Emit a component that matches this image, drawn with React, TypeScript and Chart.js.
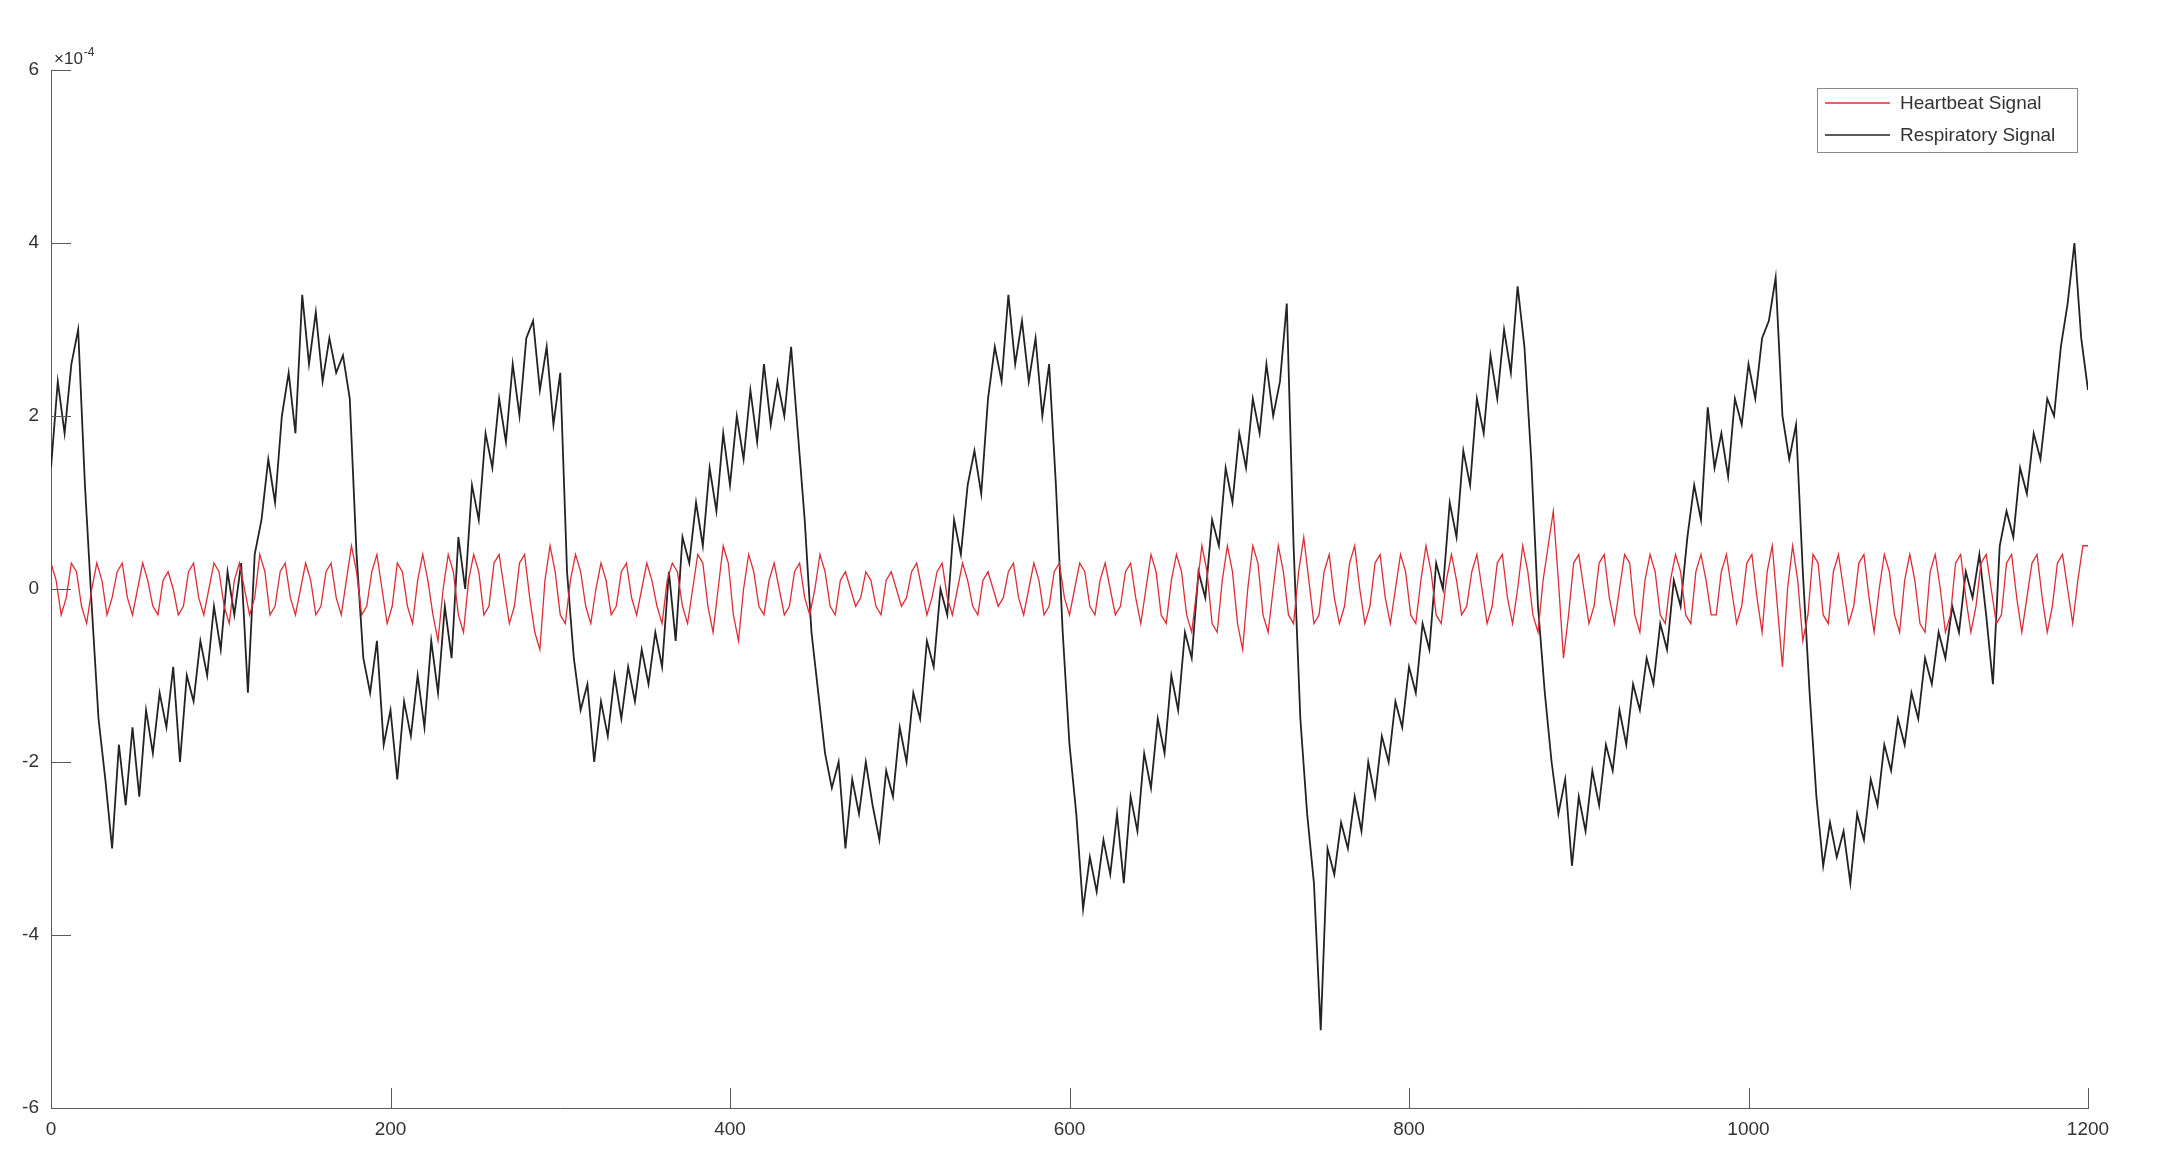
import React, { useEffect, useRef } from "react";
import { Chart, registerables } from "chart.js";

Chart.register(...registerables);

// ---- data -----------------------------------------------------------------
const X_TICKS = [0, 200, 400, 600, 800, 1000, 1200];
const Y_TICKS = [-6, -4, -2, 0, 2, 4, 6];
const SERIES_LABELS = ["Heartbeat Signal", "Respiratory Signal"];
const EXPONENT_BASE = "\u00d710";
const EXPONENT_POWER = "-4";

const HEART_STEP = 3;
const RESP_STEP = 4;

// Heartbeat signal (x10^-4), x = 0, 3, 6, ... 1200
const HEART_VALUES = [
  0.3, 0.1, -0.3, -0.1, 0.3, 0.2, -0.2, -0.4, 0.0, 0.3,
  0.1, -0.3, -0.1, 0.2, 0.3, -0.1, -0.3, 0.0, 0.3, 0.1,
  -0.2, -0.3, 0.1, 0.2, 0.0, -0.3, -0.2, 0.2, 0.3, -0.1,
  -0.3, 0.0, 0.3, 0.2, -0.2, -0.4, 0.1, 0.3, 0.0, -0.3,
  -0.1, 0.4, 0.2, -0.3, -0.2, 0.2, 0.3, -0.1, -0.3, 0.0,
  0.3, 0.1, -0.3, -0.2, 0.2, 0.3, -0.1, -0.3, 0.1, 0.5,
  0.2, -0.3, -0.2, 0.2, 0.4, 0.0, -0.4, -0.2, 0.3, 0.2,
  -0.2, -0.4, 0.1, 0.4, 0.1, -0.3, -0.6, 0.0, 0.4, 0.2,
  -0.3, -0.5, 0.1, 0.4, 0.2, -0.3, -0.2, 0.3, 0.4, 0.0,
  -0.4, -0.2, 0.3, 0.4, -0.1, -0.5, -0.7, 0.1, 0.5, 0.2,
  -0.3, -0.4, 0.1, 0.4, 0.2, -0.2, -0.4, 0.0, 0.3, 0.1,
  -0.3, -0.2, 0.2, 0.3, -0.1, -0.3, 0.0, 0.3, 0.1, -0.2,
  -0.4, 0.1, 0.3, 0.2, -0.2, -0.4, 0.0, 0.4, 0.3, -0.2,
  -0.5, 0.0, 0.5, 0.3, -0.3, -0.6, 0.0, 0.4, 0.2, -0.2,
  -0.3, 0.1, 0.3, 0.0, -0.3, -0.2, 0.2, 0.3, -0.1, -0.3,
  0.0, 0.4, 0.2, -0.2, -0.3, 0.1, 0.2, 0.0, -0.2, -0.1,
  0.2, 0.1, -0.2, -0.3, 0.1, 0.2, 0.0, -0.2, -0.1, 0.2,
  0.3, 0.0, -0.3, -0.1, 0.2, 0.3, -0.1, -0.3, 0.0, 0.3,
  0.1, -0.2, -0.3, 0.1, 0.2, 0.0, -0.2, -0.1, 0.2, 0.3,
  -0.1, -0.3, 0.0, 0.3, 0.1, -0.3, -0.2, 0.2, 0.3, -0.1,
  -0.3, 0.0, 0.3, 0.2, -0.2, -0.3, 0.1, 0.3, 0.0, -0.3,
  -0.2, 0.2, 0.3, -0.1, -0.4, 0.0, 0.4, 0.2, -0.3, -0.4,
  0.1, 0.4, 0.2, -0.3, -0.5, 0.0, 0.5, 0.2, -0.4, -0.5,
  0.1, 0.5, 0.2, -0.4, -0.7, 0.0, 0.5, 0.3, -0.3, -0.5,
  0.0, 0.5, 0.2, -0.3, -0.4, 0.2, 0.6, 0.1, -0.4, -0.3,
  0.2, 0.4, -0.1, -0.4, -0.2, 0.3, 0.5, 0.0, -0.4, -0.2,
  0.3, 0.4, -0.1, -0.4, 0.0, 0.4, 0.2, -0.3, -0.4, 0.1,
  0.5, 0.2, -0.3, -0.4, 0.1, 0.4, 0.1, -0.3, -0.2, 0.2,
  0.4, 0.0, -0.4, -0.2, 0.3, 0.4, -0.1, -0.4, 0.0, 0.5,
  0.2, -0.3, -0.5, 0.1, 0.5, 0.9, 0.1, -0.8, -0.3, 0.3,
  0.4, 0.0, -0.4, -0.2, 0.3, 0.4, -0.1, -0.4, 0.0, 0.4,
  0.3, -0.3, -0.5, 0.1, 0.4, 0.2, -0.3, -0.4, 0.1, 0.4,
  0.2, -0.3, -0.4, 0.2, 0.4, 0.1, -0.3, -0.3, 0.2, 0.4,
  0.0, -0.4, -0.2, 0.3, 0.4, -0.1, -0.5, 0.2, 0.5, -0.2,
  -0.9, 0.0, 0.5, 0.1, -0.6, -0.3, 0.4, 0.3, -0.3, -0.4,
  0.2, 0.4, 0.0, -0.4, -0.2, 0.3, 0.4, -0.1, -0.5, 0.0,
  0.4, 0.2, -0.3, -0.5, 0.1, 0.4, 0.1, -0.4, -0.5, 0.2,
  0.4, 0.0, -0.5, -0.3, 0.3, 0.4, -0.1, -0.5, -0.2, 0.3,
  0.4, 0.0, -0.4, -0.3, 0.3, 0.4, -0.1, -0.5, -0.1, 0.3,
  0.4, -0.1, -0.5, -0.2, 0.3, 0.4, 0.0, -0.4, 0.1, 0.5,
  0.5,
];

// Respiratory signal (x10^-4), x = 0, 4, 8, ... 1200
const RESP_VALUES = [
  1.4, 2.4, 1.8, 2.6, 3.0, 1.2, -0.2, -1.5, -2.2, -3.0,
  -1.8, -2.5, -1.6, -2.4, -1.4, -1.9, -1.2, -1.6, -0.9, -2.0,
  -1.0, -1.3, -0.6, -1.0, -0.2, -0.7, 0.2, -0.3, 0.3, -1.2,
  0.4, 0.8, 1.5, 1.0, 2.0, 2.5, 1.8, 3.4, 2.6, 3.2,
  2.4, 2.9, 2.5, 2.7, 2.2, 0.4, -0.8, -1.2, -0.6, -1.8,
  -1.4, -2.2, -1.3, -1.7, -1.0, -1.6, -0.6, -1.2, -0.2, -0.8,
  0.6, 0.0, 1.2, 0.8, 1.8, 1.4, 2.2, 1.7, 2.6, 2.0,
  2.9, 3.1, 2.3, 2.8, 1.9, 2.5, 0.2, -0.8, -1.4, -1.1,
  -2.0, -1.3, -1.7, -1.0, -1.5, -0.9, -1.3, -0.7, -1.1, -0.5,
  -0.9, 0.2, -0.6, 0.6, 0.3, 1.0, 0.5, 1.4, 0.9, 1.8,
  1.2, 2.0, 1.5, 2.3, 1.7, 2.6, 1.9, 2.4, 2.0, 2.8,
  1.8, 0.8, -0.5, -1.2, -1.9, -2.3, -2.0, -3.0, -2.2, -2.6,
  -2.0, -2.5, -2.9, -2.1, -2.4, -1.6, -2.0, -1.2, -1.5, -0.6,
  -0.9, 0.0, -0.3, 0.8, 0.4, 1.2, 1.6, 1.1, 2.2, 2.8,
  2.4, 3.4, 2.6, 3.1, 2.4, 2.9, 2.0, 2.6, 1.2, -0.5,
  -1.8, -2.6, -3.7, -3.1, -3.5, -2.9, -3.3, -2.6, -3.4, -2.4,
  -2.8, -1.9, -2.3, -1.5, -1.9, -1.0, -1.4, -0.5, -0.8, 0.2,
  -0.1, 0.8, 0.5, 1.4, 1.0, 1.8, 1.4, 2.2, 1.8, 2.6,
  2.0, 2.4, 3.3, 0.5, -1.5, -2.6, -3.4, -5.1, -3.0, -3.3,
  -2.7, -3.0, -2.4, -2.8, -2.0, -2.4, -1.7, -2.0, -1.3, -1.6,
  -0.9, -1.2, -0.4, -0.7, 0.3, 0.0, 1.0, 0.6, 1.6, 1.2,
  2.2, 1.8, 2.7, 2.2, 3.0, 2.5, 3.5, 2.8, 1.5, -0.2,
  -1.2, -2.0, -2.6, -2.2, -3.2, -2.4, -2.8, -2.1, -2.5, -1.8,
  -2.1, -1.4, -1.8, -1.1, -1.4, -0.8, -1.1, -0.4, -0.7, 0.1,
  -0.2, 0.6, 1.2, 0.8, 2.1, 1.4, 1.8, 1.3, 2.2, 1.9,
  2.6, 2.2, 2.9, 3.1, 3.6, 2.0, 1.5, 1.9, 0.2, -1.2,
  -2.4, -3.2, -2.7, -3.1, -2.8, -3.4, -2.6, -2.9, -2.2, -2.5,
  -1.8, -2.1, -1.5, -1.8, -1.2, -1.5, -0.8, -1.1, -0.5, -0.8,
  -0.2, -0.5, 0.2, -0.1, 0.4, -0.3, -1.1, 0.5, 0.9, 0.6,
  1.4, 1.1, 1.8, 1.5, 2.2, 2.0, 2.8, 3.3, 4.0, 2.9,
  2.3,
];

const HEART_COLOR = "rgb(222, 45, 55)";
const RESP_COLOR = "rgb(35, 35, 35)";
const AXIS_COLOR = "#5a5a5a";
const TEXT_COLOR = "#333333";
const FONT = "'Liberation Sans', Arial, Helvetica, sans-serif";

const matlabDecor = {
  id: "matlabDecor",
  afterDraw(chart: any) {
    const ctx = chart.ctx;
    const xs = chart.scales.x;
    const ys = chart.scales.y;
    const a = chart.chartArea;
    ctx.save();
    // inward tick marks
    ctx.strokeStyle = AXIS_COLOR;
    ctx.lineWidth = 1;
    ctx.beginPath();
    X_TICKS.forEach((v) => {
      const px = Math.round(xs.getPixelForValue(v)) + 0.5;
      ctx.moveTo(px, a.bottom);
      ctx.lineTo(px, a.bottom - 20);
    });
    Y_TICKS.forEach((v) => {
      const py = Math.round(ys.getPixelForValue(v)) + 0.5;
      ctx.moveTo(a.left, py);
      ctx.lineTo(a.left + 20, py);
    });
    ctx.stroke();

    // exponent label
    ctx.fillStyle = TEXT_COLOR;
    ctx.textAlign = "left";
    ctx.textBaseline = "alphabetic";
    ctx.font = `17px ${FONT}`;
    const bx = a.left + 3;
    const by = a.top - 6;
    ctx.fillText(EXPONENT_BASE, bx, by);
    const w = ctx.measureText(EXPONENT_BASE).width;
    ctx.font = `12px ${FONT}`;
    ctx.fillText(EXPONENT_POWER, bx + w + 1, by - 8);

    // legend box
    const ds = chart.data.datasets;
    const boxW = 260;
    const boxH = 64;
    const boxX = a.right - 11 - boxW;
    const boxY = a.top + 18;
    ctx.fillStyle = "#ffffff";
    ctx.fillRect(boxX, boxY, boxW, boxH);
    ctx.strokeStyle = "#8a8a8a";
    ctx.lineWidth = 1;
    ctx.strokeRect(boxX + 0.5, boxY + 0.5, boxW, boxH);
    ctx.font = `19px ${FONT}`;
    ctx.textBaseline = "middle";
    ds.forEach((d: any, i: number) => {
      const ly = boxY + 15 + i * 32;
      ctx.strokeStyle = d.borderColor;
      ctx.lineWidth = 1.3;
      ctx.beginPath();
      ctx.moveTo(boxX + 8, ly);
      ctx.lineTo(boxX + 73, ly);
      ctx.stroke();
      ctx.fillStyle = TEXT_COLOR;
      ctx.fillText(d.label, boxX + 83, ly + 1);
    });
    ctx.restore();
  },
};

export default function App() {
  const canvasRef = useRef<HTMLCanvasElement | null>(null);

  useEffect(() => {
    document.body.style.margin = "0";
    const canvas = canvasRef.current;
    if (!canvas) return;

    const heart = HEART_VALUES.map((v, i) => ({ x: i * HEART_STEP, y: v }));
    const resp = RESP_VALUES.map((v, i) => ({ x: i * RESP_STEP, y: v }));

    const tickFont = { family: FONT, size: 19 };

    const chart = new Chart(canvas, {
      type: "line",
      data: {
        datasets: [
          {
            label: SERIES_LABELS[0],
            data: heart,
            borderColor: HEART_COLOR,
            backgroundColor: HEART_COLOR,
            borderWidth: 1.3,
            pointRadius: 0,
            tension: 0,
            order: 0,
          },
          {
            label: SERIES_LABELS[1],
            data: resp,
            borderColor: RESP_COLOR,
            backgroundColor: RESP_COLOR,
            borderWidth: 1.8,
            pointRadius: 0,
            tension: 0,
            order: 1,
          },
        ],
      },
      options: {
        responsive: false,
        animation: false,
        devicePixelRatio: 1,
        layout: { padding: { top: 70, right: 69, left: 0, bottom: 0 } },
        plugins: {
          legend: { display: false },
          tooltip: { enabled: false },
        },
        scales: {
          x: {
            type: "linear",
            min: 0,
            max: 1200,
            afterBuildTicks: (s: any) => {
              s.ticks = X_TICKS.map((v) => ({ value: v }));
            },
            afterFit: (s: any) => {
              s.height = 66;
            },
            grid: { display: true, drawOnChartArea: false, drawTicks: false },
            border: { display: true, color: AXIS_COLOR, width: 1 },
            ticks: {
              font: tickFont,
              color: TEXT_COLOR,
              padding: 10,
              maxRotation: 0,
              autoSkip: false,
              callback: (v: any) => String(v),
            },
          },
          y: {
            type: "linear",
            min: -6,
            max: 6,
            afterBuildTicks: (s: any) => {
              s.ticks = Y_TICKS.map((v) => ({ value: v }));
            },
            afterFit: (s: any) => {
              s.width = 51;
            },
            grid: { display: true, drawOnChartArea: false, drawTicks: false },
            border: { display: true, color: AXIS_COLOR, width: 1 },
            ticks: {
              font: tickFont,
              color: TEXT_COLOR,
              padding: 12,
              autoSkip: false,
              callback: (v: any) => String(v),
            },
          },
        },
      } as any,
      plugins: [matlabDecor],
    });

    return () => {
      chart.destroy();
    };
  }, []);

  return (
    <canvas
      ref={canvasRef}
      width={2157}
      height={1174}
      style={{ display: "block", width: 2157, height: 1174 }}
    />
  );
}
